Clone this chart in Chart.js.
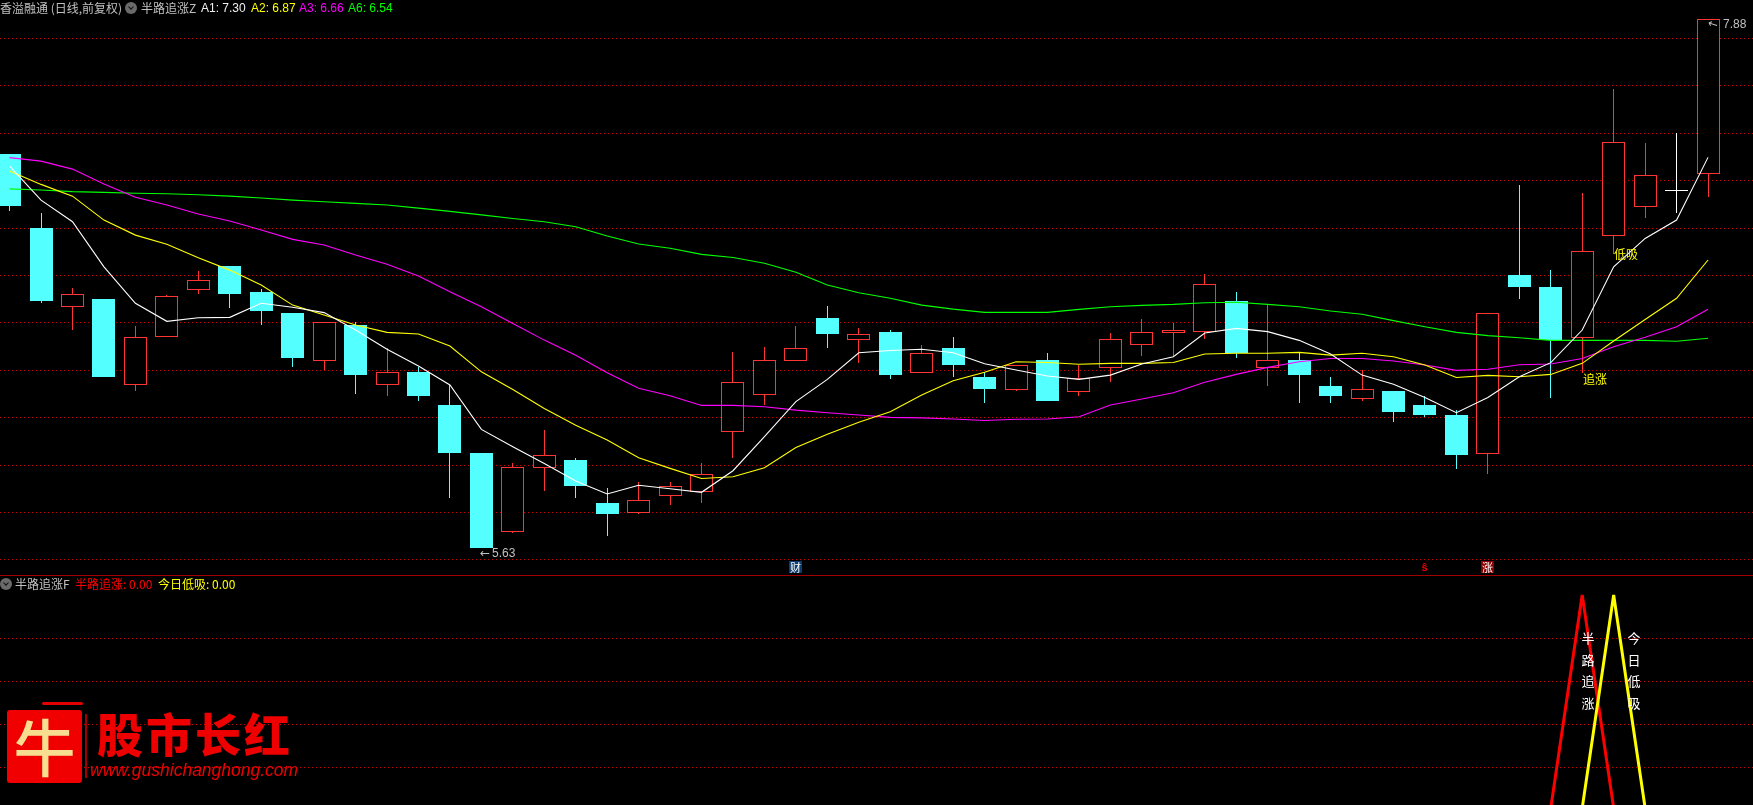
<!DOCTYPE html>
<html>
<head>
<meta charset="utf-8">
<script src="https://cdn.jsdelivr.net/npm/chart.js@4"></script>
<style>
  html, body { margin:0; padding:0; width:1753px; height:805px; background:#000; overflow:hidden; }
  body { position:relative; font-family:"Noto Sans CJK SC","Liberation Sans",sans-serif; font-size:12px; }
  canvas { position:absolute; left:0; }
  #main { top:0; }
  #sub { top:576px; }
  #sep { position:absolute; left:0; top:575px; width:1753px; height:1px; background:#a00000; }
  .t { position:absolute; white-space:nowrap; line-height:14px; height:14px; letter-spacing:0; }
  .n { font-family:"Liberation Sans",sans-serif; }
  .arr { font-family:"DejaVu Sans",sans-serif; display:inline-block; }
  .ico { position:absolute; width:12px; height:12px; border-radius:6px; background:#6a6a6a; }
  .ico:after { content:""; position:absolute; left:3.5px; top:2.5px; width:3px; height:3px; border-right:1.4px solid #111; border-bottom:1.4px solid #111; transform:rotate(45deg); }
  .v { position:absolute; color:#fff; width:16px; text-align:center; line-height:21.5px; font-size:13px; }
  .box { position:absolute; color:#fff; text-align:center; font-size:11px; line-height:12px; width:13px; height:12px; }
  #logo { position:absolute; left:7px; top:710px; width:75px; height:73px; background:#f00000; color:#f6dd90; font-size:62px; font-weight:500; line-height:70px; text-align:center; border-radius:3px; }
  #logoTop { position:absolute; left:42px; top:702px; width:41px; height:3px; background:#e00000; border-radius:2px; }
  #logoRight { position:absolute; left:85px; top:714px; width:2px; height:64px; background:#a00000; }
  #brand { position:absolute; left:97px; top:702px; color:#ee0000; font-size:46px; font-weight:900; line-height:60px; letter-spacing:3px; white-space:nowrap; }
  #url { position:absolute; left:90px; top:760px; color:#ee0000; font:italic 17.5px "Liberation Sans",sans-serif; line-height:20px; white-space:nowrap; }
</style>
</head>
<body>
<canvas id="main" width="1753" height="575"></canvas>
<canvas id="sub" width="1753" height="232"></canvas>
<div id="sep"></div>

<span class="t" style="left:0;top:1px;color:#c0c0c0">香溢融通 (日线,前复权)</span>
<span class="ico" style="left:125px;top:2px"></span>
<span class="t" style="left:141px;top:1px;color:#c0c0c0">半路追涨Z</span>
<span class="t n" style="left:201px;top:1px;color:#f0f0f0">A1: 7.30</span>
<span class="t n" style="left:251px;top:1px;color:#ffff00">A2: 6.87</span>
<span class="t n" style="left:299px;top:1px;color:#ff00ff">A3: 6.66</span>
<span class="t n" style="left:348px;top:1px;color:#00ff00">A6: 6.54</span>

<span class="ico" style="left:0;top:578px"></span>
<span class="t" style="left:15px;top:577px;color:#c0c0c0">半路追涨F</span>
<span class="t" style="left:75px;top:577px;color:#ff0000">半路追涨: 0.00</span>
<span class="t" style="left:158px;top:577px;color:#ffff00">今日低吸: 0.00</span>

<span class="t n" style="left:480px;top:546px;color:#c0c0c0"><span class="arr">←</span><span style="margin-left:2px">5.63</span></span>
<span class="t n" style="left:1708px;top:17px;color:#c0c0c0"><span class="arr" style="transform:rotate(18deg)">←</span><span style="margin-left:5px">7.88</span></span>
<span class="t" style="left:1614px;top:247px;color:#ffff00">低吸</span>
<span class="t" style="left:1583px;top:372px;color:#ffff00">追涨</span>

<span class="box" style="left:789px;top:561px;background:#0b3c70">财</span>
<span class="box" style="left:1418px;top:561px;color:#f00000;font:bold 11px/13px 'Liberation Sans',sans-serif">ŝ</span>
<span class="box" style="left:1481px;top:561px;background:#8c0000">涨</span>

<div class="v" style="left:1580px;top:627px">半<br>路<br>追<br>涨</div>
<div class="v" style="left:1626px;top:627px">今<br>日<br>低<br>吸</div>

<div id="logoTop"></div>
<div id="logoRight"></div>
<div id="logo">牛</div>
<div id="brand">股市长红</div>
<div id="url">www.gushichanghong.com</div>

<script>
// ------------------------------------------------------------
// DATA
// ------------------------------------------------------------
const opens  = [7.306,6.991,6.656,6.689,6.324,6.526,6.728,6.829,6.719,6.629,6.426,6.578,6.324,6.378,6.238,6.034,5.698,5.971,6.003,5.820,5.779,5.851,5.868,6.124,6.281,6.426,6.608,6.516,6.548,6.375,6.480,6.357,6.303,6.429,6.294,6.396,6.494,6.545,6.547,6.680,6.396,6.429,6.318,6.264,6.297,6.238,6.195,6.030,6.791,6.740,6.524,6.958,7.082,7.150,7.222];
const highs  = [7.306,7.055,6.736,6.689,6.574,6.706,6.808,6.829,6.733,6.629,6.590,6.591,6.479,6.401,6.323,6.034,5.991,6.131,6.012,5.884,5.910,5.910,5.991,6.463,6.485,6.574,6.659,6.565,6.557,6.492,6.527,6.378,6.408,6.459,6.408,6.544,6.604,6.588,6.795,6.719,6.668,6.460,6.357,6.387,6.297,6.276,6.216,6.628,7.174,6.812,7.140,7.583,7.352,7.396,7.880];
const lows   = [7.065,6.673,6.557,6.357,6.298,6.526,6.711,6.651,6.579,6.399,6.388,6.286,6.277,6.256,5.842,5.630,5.693,5.873,5.842,5.681,5.773,5.812,5.820,6.012,6.238,6.426,6.480,6.416,6.348,6.375,6.357,6.246,6.297,6.255,6.276,6.335,6.446,6.446,6.520,6.438,6.318,6.246,6.246,6.256,6.165,6.186,5.965,5.944,6.689,6.267,6.374,6.880,7.034,7.055,7.123];
const closes = [7.085,6.682,6.709,6.357,6.526,6.702,6.768,6.711,6.639,6.438,6.590,6.365,6.377,6.276,6.034,5.630,5.972,6.023,5.894,5.773,5.832,5.891,5.942,6.334,6.428,6.479,6.540,6.539,6.365,6.458,6.408,6.306,6.406,6.255,6.354,6.517,6.547,6.556,6.751,6.459,6.428,6.365,6.276,6.304,6.208,6.195,6.025,6.628,6.740,6.513,6.892,7.356,7.216,7.154,7.880];

const a1 = [7.255,7.110,7.018,6.826,6.671,6.594,6.609,6.611,6.671,6.654,6.631,6.557,6.475,6.404,6.323,6.134,6.060,5.989,5.914,5.859,5.896,5.881,5.866,5.958,6.103,6.252,6.347,6.460,6.470,6.475,6.460,6.413,6.387,6.361,6.347,6.365,6.412,6.443,6.544,6.564,6.550,6.513,6.455,6.365,6.326,6.270,6.205,6.270,6.358,6.418,6.557,6.826,6.947,7.025,7.292];
const a2 = [7.234,7.177,7.127,7.025,6.961,6.922,6.865,6.812,6.749,6.663,6.621,6.578,6.547,6.540,6.489,6.379,6.304,6.223,6.152,6.089,6.013,5.968,5.925,5.932,5.971,6.057,6.113,6.164,6.209,6.280,6.341,6.377,6.422,6.419,6.411,6.415,6.415,6.419,6.455,6.458,6.458,6.462,6.450,6.458,6.443,6.408,6.355,6.364,6.358,6.368,6.415,6.510,6.602,6.692,6.855];
const a3 = [7.291,7.276,7.242,7.179,7.122,7.089,7.051,7.021,6.983,6.943,6.919,6.876,6.837,6.787,6.720,6.656,6.585,6.514,6.450,6.375,6.309,6.277,6.236,6.236,6.230,6.216,6.205,6.195,6.185,6.183,6.178,6.172,6.177,6.178,6.188,6.238,6.263,6.290,6.335,6.368,6.398,6.422,6.436,6.436,6.425,6.408,6.385,6.390,6.409,6.412,6.436,6.486,6.526,6.571,6.645];
const a6 = [7.158,7.153,7.146,7.143,7.139,7.137,7.133,7.127,7.119,7.110,7.103,7.096,7.089,7.076,7.062,7.047,7.032,7.018,6.997,6.957,6.923,6.905,6.879,6.866,6.841,6.803,6.749,6.716,6.692,6.663,6.646,6.632,6.632,6.632,6.645,6.656,6.662,6.666,6.673,6.675,6.666,6.656,6.638,6.624,6.597,6.571,6.547,6.533,6.524,6.513,6.513,6.513,6.513,6.509,6.522];

const chaseSignal = [0,0,0,0,0,0,0,0,0,0,0,0,0,0,0,0,0,0,0,0,0,0,0,0,0,0,0,0,0,0,0,0,0,0,0,0,0,0,0,0,0,0,0,0,0,0,0,0,0,0,1,0,0,0,0];
const dipSignal   = [0,0,0,0,0,0,0,0,0,0,0,0,0,0,0,0,0,0,0,0,0,0,0,0,0,0,0,0,0,0,0,0,0,0,0,0,0,0,0,0,0,0,0,0,0,0,0,0,0,0,0,1,0,0,0];

const mainTicks = [7.798,7.599,7.394,7.194,6.990,6.790,6.590,6.385,6.185,5.981,5.779,5.580];
const subTicks  = [0.796,0.594,0.393,0.191];

// ------------------------------------------------------------
// SHARED OPTIONS
// ------------------------------------------------------------
const RED = '#ff3434', CYAN = '#54ffff', GRID = '#c80000';
const labels = opens.map((_, i) => i);
const xScale = { type:'linear', display:false, offset:false, min:-0.305, max:55.43 };

function gridAxis(min, max, ticks) {
  return {
    min, max,
    afterBuildTicks: s => { s.ticks = ticks.map(v => ({ value:v })); },
    ticks: { display:false },
    grid: { color:GRID, lineWidth:1, drawTicks:false },
    border: { display:false, dash:[1,3] }
  };
}
const baseOptions = (yAxis) => ({
  responsive:false, animation:false, events:[], devicePixelRatio:1,
  layout: { padding:0 },
  plugins: { legend:{ display:false }, tooltip:{ enabled:false } },
  scales: { x:xScale, y:yAxis }
});
const maLine = (data, color, order) => ({ type:'line', data, borderColor:color, borderWidth:1.1, pointRadius:0, tension:0, order });

const candleColor = i => closes[i] - opens[i] > 0.005 ? RED : (closes[i] < opens[i] ? CYAN : '#ffffff');

// the reference candles sit on whole pixels, so snap the bars the scales placed
const snapBars = {
  id:'snapBars',
  afterDatasetsUpdate(chart) {
    chart.getSortedVisibleDatasetMetas().forEach(meta => {
      if (meta.type !== 'bar') return;
      meta.data.forEach(el => {
        el.x = Math.floor(el.x) + 0.5;
        el.y = Math.round(el.y);
        el.base = Math.round(el.base);
        el.height = el.base - el.y;
      });
    });
  }
};

// main panel: price candles + 4 moving averages
new Chart(document.getElementById('main'), {
  type:'bar',
  plugins:[snapBars],
  data: {
    labels,
    datasets: [
      maLine(a1, '#ffffff', 0),
      maLine(a2, '#ffff00', 1),
      maLine(a3, '#ff00ff', 2),
      maLine(a6, '#00ff00', 3),
      { // bodies
        data: opens.map((o, i) => [o, closes[i]]),
        grouped:false, barThickness:23, inflateAmount:0, borderWidth:1, borderSkipped:false,
        borderColor: labels.map(candleColor),
        backgroundColor: labels.map(i => { const c = candleColor(i); return c === RED ? '#000000' : c; }),
        order:4
      },
      { // wicks
        data: lows.map((l, i) => [l, highs[i]]),
        grouped:false, barThickness:1, inflateAmount:0, borderWidth:0,
        backgroundColor: labels.map(candleColor),
        order:5
      }
    ]
  },
  options: baseOptions(gridAxis(5.514, 7.962, mainTicks))
});

// lower panel: signal spikes
new Chart(document.getElementById('sub'), {
  type:'line',
  data: {
    labels,
    datasets: [
      { data:dipSignal, borderColor:'#ffff00', borderWidth:3, borderJoinStyle:'bevel', pointRadius:0, tension:0, order:0 },
      { data:chaseSignal, borderColor:'#ff0000', borderWidth:3, borderJoinStyle:'bevel', pointRadius:0, tension:0, order:1 }
    ]
  },
  options: baseOptions(gridAxis(0, 1.089, subTicks))
});
</script>
</body>
</html>
